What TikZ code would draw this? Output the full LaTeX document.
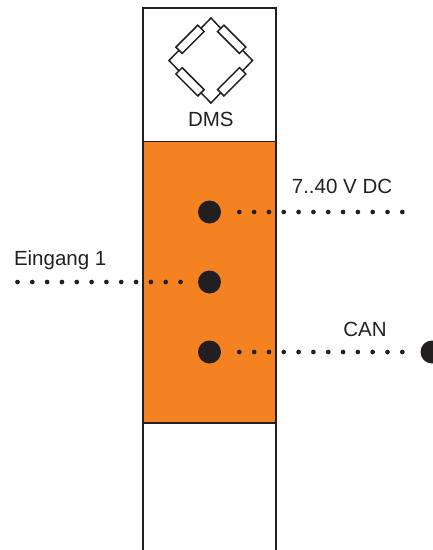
\documentclass[tikz,border=0pt]{standalone}
\usepackage{fontspec}
\setmainfont{Liberation Sans}
\definecolor{ink}{HTML}{231F20}
\definecolor{modorange}{HTML}{F58220}
\tikzset{
  lbl/.style={text=ink,font=\fontsize{20.5}{24}\selectfont,inner sep=0pt,outer sep=0pt},
  outline/.style={draw=ink,line width=1.5pt},
  resistor/.style={draw=ink,fill=white,line width=1.5pt,rectangle,minimum width=31pt,minimum height=9pt,inner sep=0pt,outer sep=0pt,rotate=#1},
  wire/.style={draw=ink,line width=1.5pt,line join=miter},
  pin/.style={circle,fill=ink,minimum size=23pt,inner sep=0pt,outer sep=0pt},
  dots/.style={draw=ink,line width=4.7pt,line cap=round,dash pattern=on 0pt off 14.82pt},
}
\begin{document}
\begin{tikzpicture}[x=1pt,y=-1pt]
\useasboundingbox (0,0) rectangle (433,550);
% housing
\fill[modorange] (143,141.5) rectangle (276,423);
\draw[outline] (143,550) -- (143,8) -- (276,8) -- (276,550);
\draw[outline] (143,141.5) -- (276,141.5);
\draw[outline] (143,423) -- (276,423);
% bridge
\coordinate (bt) at (211,18);
\coordinate (br) at (252.5,60.5);
\coordinate (bb) at (211,103);
\coordinate (bl) at (169,60.5);
\node[resistor=-45] (r1) at (231.7,39.3) {};
\node[resistor=45] (r2) at (231.7,81.8) {};
\node[resistor=-45] (r3) at (190,81.8) {};
\node[resistor=45] (r4) at (190,39.3) {};
\draw[wire] (r4.east) -- (bt) -- (r1.west);
\draw[wire] (r1.east) -- (br) -- (r2.east);
\draw[wire] (r2.west) -- (bb) -- (r3.east);
\draw[wire] (r3.west) -- (bl) -- (r4.west);
% labels
\node[lbl,anchor=base] (dms) at (210.8,126.7) {DMS};
\node[lbl,anchor=base] (volt) at (342,193) {7..40 V DC};
\node[lbl,anchor=base west] (ein) at (14,265) {Eingang 1};
\node[lbl,anchor=base] (can) at (365,336.7) {CAN};
% pins
\node[pin] (p1) at (209.5,212) {};
\node[pin] (p2) at (209.5,282) {};
\node[pin] (p3) at (209.5,352) {};
\node[pin] (p4) at (432,352) {};
% connectors
\coordinate (a1) at (239.3,212);
\coordinate (a2) at (403.5,212);
\coordinate (b1) at (17.5,282);
\coordinate (b2) at (181.5,282);
\coordinate (c1) at (239.3,352);
\coordinate (c2) at (403.5,352);
\draw[dots] (a1) -- (a2);
\draw[dots] (b1) -- (b2);
\draw[dots] (c1) -- (c2);
\end{tikzpicture}
\end{document}
